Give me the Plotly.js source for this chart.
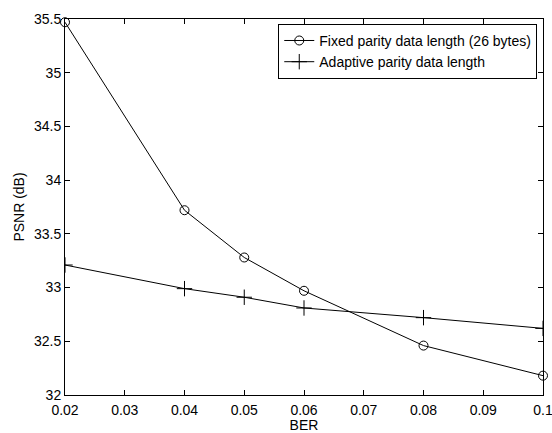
<!DOCTYPE html>
<html><head><meta charset="utf-8">
<script src="https://cdn.plot.ly/plotly-3.0.1.min.js"></script>
<style>html,body{margin:0;padding:0;background:#fff}#chart{width:552px;height:433px}</style>
</head><body><div id="chart"></div>
<script>
const ber = [0.02, 0.04, 0.05, 0.06, 0.08, 0.1];
const fixedPsnr = [35.47, 33.72, 33.28, 32.97, 32.46, 32.18];
const adaptivePsnr = [33.21, 32.99, 32.91, 32.81, 32.72, 32.62];
const xTicks = [0.02, 0.03, 0.04, 0.05, 0.06, 0.07, 0.08, 0.09, 0.1];
const xTickText = ['0.02','0.03','0.04','0.05','0.06','0.07','0.08','0.09','0.1'];
const yTicks = [32, 32.5, 33, 33.5, 34, 34.5, 35, 35.5];
const yTickText = ['32','32.5','33','33.5','34','34.5','35','35.5'];

const font = {family: 'Liberation Sans, Arial, sans-serif', size: 14, color: '#000'};
const traces = [
  {x: ber, y: fixedPsnr, mode: 'lines+markers', name: 'Fixed parity data length (26 bytes)',
   line: {color: '#000', width: 1}, marker: {symbol: 'circle-open', size: 9, color: '#000', line: {width: 1}}, cliponaxis: false},
  {x: ber, y: adaptivePsnr, mode: 'lines+markers', name: 'Adaptive parity data length',
   line: {color: '#000', width: 1}, marker: {symbol: 'cross-thin-open', size: 11, color: '#000', line: {width: 1, color: '#000'}}}
];
const axisCommon = {showline: true, mirror: 'ticks', linecolor: '#000', linewidth: 1, ticks: 'inside', ticklen: 5,
  tickcolor: '#000', showgrid: false, zeroline: false, tickfont: font, ticklabeloverflow: 'allow'};
const layout = {
  width: 552, height: 433, paper_bgcolor: '#fff', plot_bgcolor: '#fff', font: font,
  margin: {l: 65, r: 9, t: 19, b: 38},
  showlegend: true,
  legend: {x: 0.988, xanchor: 'right', y: 0.987, yanchor: 'top', bgcolor: '#fff', bordercolor: '#000', borderwidth: 1,
    font: {family: 'Liberation Sans, Arial, sans-serif', size: 14, color: '#000'}, tracegroupgap: 0, itemwidth: 30},
  xaxis: Object.assign({}, axisCommon, {range: [0.02, 0.1], tickvals: xTicks, ticktext: xTickText,
    ticklabelstandoff: 2, title: {text: 'BER', font: font, standoff: 2}}),
  yaxis: Object.assign({}, axisCommon, {range: [32, 35.5], tickvals: yTicks, ticktext: yTickText,
    title: {text: 'PSNR (dB)', font: font, standoff: 6}})
};
Plotly.newPlot('chart', traces, layout, {displayModeBar: false, staticPlot: true});
</script></body></html>
